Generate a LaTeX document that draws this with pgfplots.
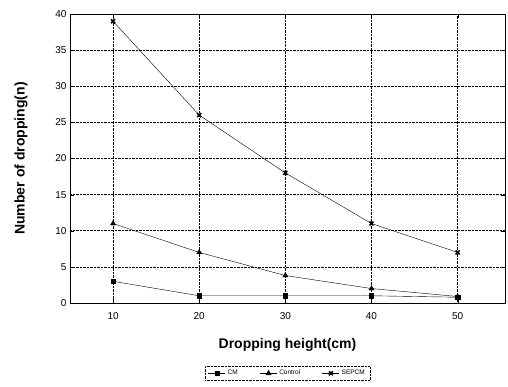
\documentclass[border=0pt]{standalone}
\usepackage{pgfplots}
\pgfplotsset{compat=1.18}
\usepackage{fontspec}
\setmainfont{Liberation Sans}
\begin{document}
\begin{tikzpicture}
\begin{axis}[
  name=ax,
  scale only axis,
  width=435pt, height=289pt,
  xmin=5, xmax=55.5, ymin=0, ymax=40,
  xtick={10,20,30,40,50},
  ytick={0,5,10,15,20,25,30,35,40},
  grid=major,
  major grid style={densely dotted, black, line width=0.6pt},
  tick style={black},
  tick align=inside,
  /pgf/number format/assume math mode=true,
  ticklabel style={font=\fontsize{10}{12}\selectfont},
  xticklabel style={yshift=-6pt},
  xlabel={\textbf{Dropping height(cm)}},
  ylabel={\textbf{Number of dropping(n)}},
  label style={font=\fontsize{14}{16}\selectfont},
  xlabel style={yshift=-12pt},
  ylabel style={yshift=21pt},
  legend columns=3,
  legend style={at={(0.5,-0.218)}, anchor=north, font=\fontsize{6.5}{7.5}\selectfont,
    draw=black, densely dotted, /tikz/every even column/.append style={column sep=20pt}},
  legend cell align=left,
]
\addplot[black, thin, mark=square*, mark size=2.2pt, mark options={solid}] coordinates {(10,3) (20,1) (30,1) (40,1) (50,0.8)};
\addlegendentry{CM}
\addplot[black, thin, mark=triangle*, mark size=3pt, mark options={solid}] coordinates {(10,11) (20,7) (30,3.8) (40,2) (50,0.9)};
\addlegendentry{Control}
\addplot[black, thin, mark=x, mark size=2.8pt, mark options={solid, line width=1.6pt}] coordinates {(10,39) (20,26) (30,18) (40,11) (50,7)};
\addlegendentry{SEPCM}
\end{axis}
\pgfresetboundingbox
\path ([shift={(-70pt,-84pt)}]ax.south west) rectangle ([shift={(3pt,14pt)}]ax.north east);
\end{tikzpicture}
\end{document}
